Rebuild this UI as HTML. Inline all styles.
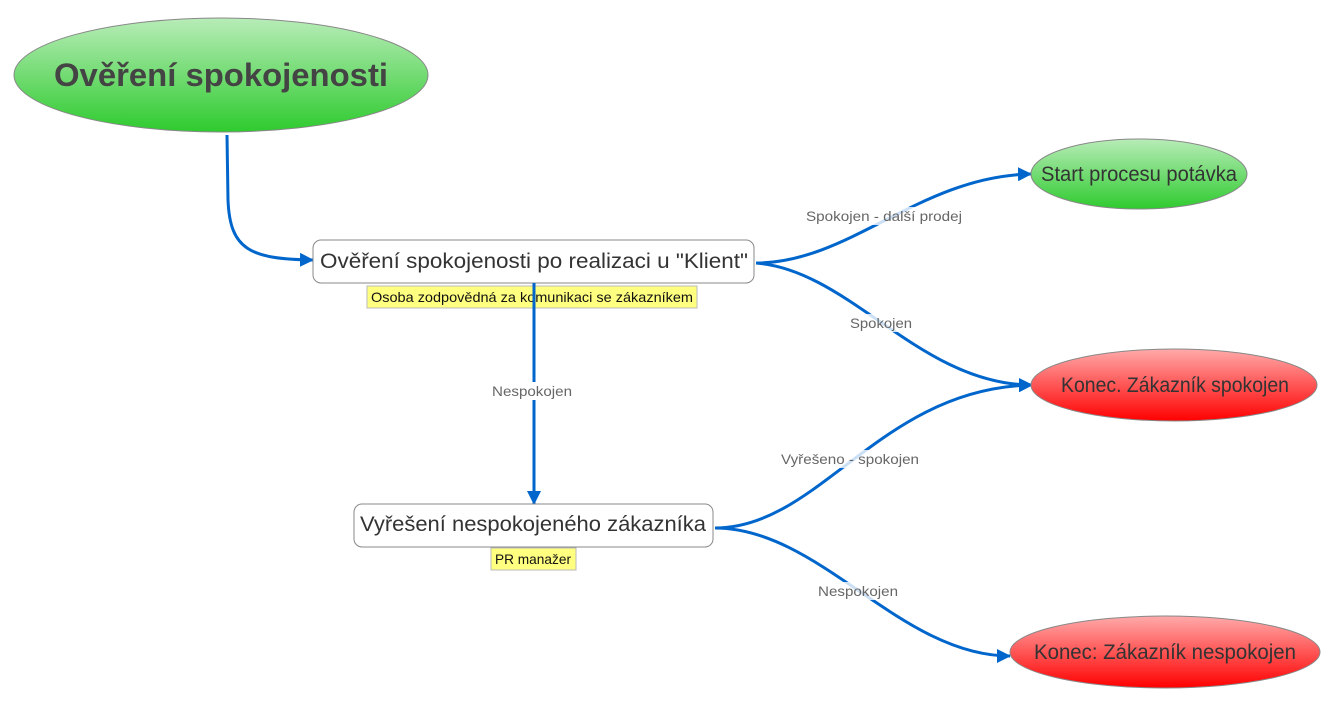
<!DOCTYPE html>
<html><head><meta charset="utf-8"><style>
html,body{margin:0;padding:0;background:#fff;}
svg{display:block;font-family:"Liberation Sans",sans-serif;}
</style></head><body>
<svg width="1339" height="707" viewBox="0 0 1339 707" xmlns="http://www.w3.org/2000/svg">
<defs>
<linearGradient id="g" x1="0" y1="0" x2="0" y2="1"><stop offset="0" stop-color="#b8ecb8"/><stop offset="1" stop-color="#2ecb2e"/></linearGradient>
<linearGradient id="r" x1="0" y1="0" x2="0" y2="1"><stop offset="0" stop-color="#ffaaaa"/><stop offset="1" stop-color="#ff0000"/></linearGradient>
<marker id="a" markerWidth="14" markerHeight="14" refX="13" refY="7" orient="auto" markerUnits="userSpaceOnUse"><path d="M0,0 L14,7 L0,14 z" fill="#0066cc"/></marker>
</defs>
<g fill="none" stroke="#0066cc" stroke-width="3">
<path d="M227,135 L228,200 C230,250 250,259 313,260" marker-end="url(#a)"/>
<path d="M756,263 C850,263 920,176 1031,174" marker-end="url(#a)"/>
<path d="M756,263 C850,270 920,385 1032,385" marker-end="url(#a)"/>
<path d="M534,283 L534,504" marker-end="url(#a)"/>
<path d="M715,528 C820,528 880,388 1032,385" marker-end="url(#a)"/>
<path d="M715,528 C820,528 900,656 1010,656" marker-end="url(#a)"/>
</g>
<ellipse cx="221" cy="75" rx="207" ry="57" fill="url(#g)" stroke="#888" stroke-width="1"/>
<text x="221" y="86" text-anchor="middle" font-size="32" font-weight="bold" fill="#444" textLength="334" lengthAdjust="spacingAndGlyphs">Ověření spokojenosti</text>
<rect x="313" y="240" width="441" height="43" rx="8" fill="#fff" stroke="#888"/>
<text x="534" y="268" text-anchor="middle" font-size="21" fill="#333" textLength="428" lengthAdjust="spacingAndGlyphs">Ověření spokojenosti po realizaci u "Klient"</text>
<rect x="367" y="286" width="330" height="22" fill="#ffff80" stroke="#bbb"/>
<text x="532" y="302" text-anchor="middle" font-size="14" fill="#111" textLength="322" lengthAdjust="spacingAndGlyphs">Osoba zodpovědná za komunikaci se zákazníkem</text>
<line x1="534" y1="283" x2="534" y2="310" stroke="#0066cc" stroke-width="3"/>
<rect x="354" y="504" width="359" height="43" rx="8" fill="#fff" stroke="#888"/>
<text x="533" y="531" text-anchor="middle" font-size="21" fill="#333" textLength="346" lengthAdjust="spacingAndGlyphs">Vyřešení nespokojeného zákazníka</text>
<rect x="491" y="548" width="85" height="22" fill="#ffff80" stroke="#bbb"/>
<text x="533" y="564" text-anchor="middle" font-size="14" fill="#111" textLength="76" lengthAdjust="spacingAndGlyphs">PR manažer</text>
<ellipse cx="1139" cy="174" rx="108" ry="35" fill="url(#g)" stroke="#888"/>
<text x="1139" y="181" text-anchor="middle" font-size="21" fill="#333" textLength="196" lengthAdjust="spacingAndGlyphs">Start procesu potávka</text>
<ellipse cx="1174" cy="385" rx="143" ry="36" fill="url(#r)" stroke="#888"/>
<text x="1175" y="392" text-anchor="middle" font-size="21" fill="#333" textLength="228" lengthAdjust="spacingAndGlyphs">Konec. Zákazník spokojen</text>
<ellipse cx="1165" cy="652" rx="155" ry="36" fill="url(#r)" stroke="#888"/>
<text x="1165" y="659" text-anchor="middle" font-size="21" fill="#333" textLength="262" lengthAdjust="spacingAndGlyphs">Konec: Zákazník nespokojen</text>
<g fill="#fff" opacity="0.8">
<rect x="806" y="207" width="156" height="18"/>
<rect x="850" y="314" width="62" height="18"/>
<rect x="781" y="450" width="138" height="18"/>
<rect x="818" y="582" width="80" height="18"/>
</g>
<rect x="490" y="382" width="84" height="18" fill="#fff"/>
<g font-size="14" fill="#666" text-anchor="middle">
<text x="884" y="221" textLength="156" lengthAdjust="spacingAndGlyphs">Spokojen - další prodej</text>
<text x="881" y="328" textLength="62" lengthAdjust="spacingAndGlyphs">Spokojen</text>
<text x="532" y="396" textLength="80" lengthAdjust="spacingAndGlyphs">Nespokojen</text>
<text x="850" y="464" textLength="138" lengthAdjust="spacingAndGlyphs">Vyřešeno - spokojen</text>
<text x="858" y="596" textLength="80" lengthAdjust="spacingAndGlyphs">Nespokojen</text>
</g>
</svg>
</body></html>
